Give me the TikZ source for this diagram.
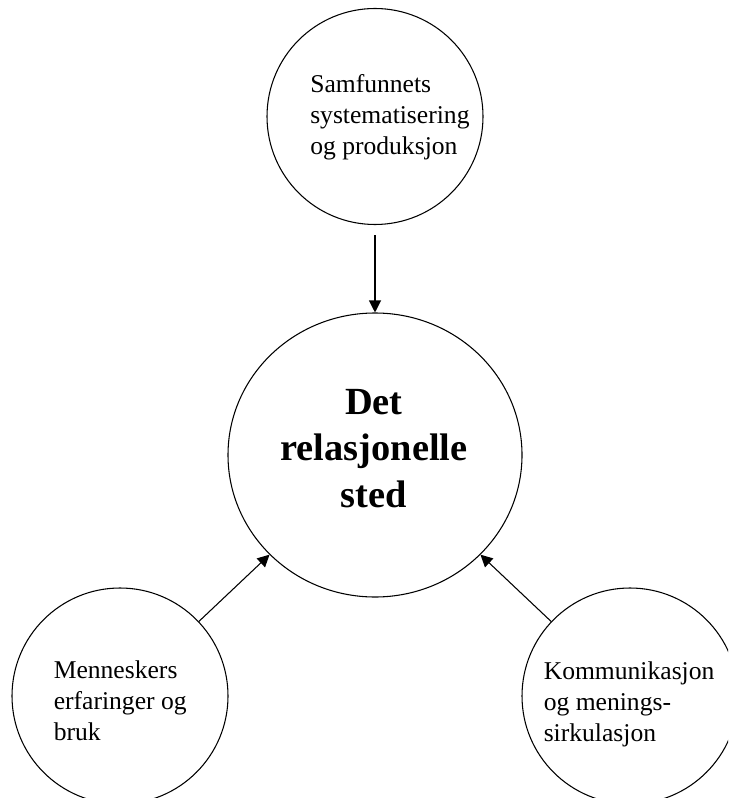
\documentclass[tikz,border=0pt]{standalone}
\usepackage{fontspec}
\setmainfont{Liberation Serif}
\usetikzlibrary{arrows.meta,shapes.geometric}
\begin{document}
\begin{tikzpicture}[x=0.75pt,y=-0.75pt,
  ring/.style={draw,circle,line width=0.8pt,minimum size=162pt,inner sep=0pt},
  hub/.style={draw,ellipse,line width=0.8pt,minimum width=220.5pt,minimum height=213pt,inner sep=0pt},
  conn/.style={line width=0.8pt,-{Triangle[length=9pt,width=9pt]}},
  small/.style={align=left,inner sep=0pt,font=\fontsize{19.2}{23.2}\selectfont},
  big/.style={align=center,inner sep=0pt,font=\fontsize{28.8}{34.9}\selectfont\bfseries}]
\useasboundingbox (0,0) rectangle (728,798);
\clip (0,0) rectangle (728,798);
\node[ring] (top) at (375,116.5) {};
\node[hub] (mid) at (375,455) {};
\node[ring] (bl) at (120,696) {};
\node[ring] (br) at (630,696) {};
\node[small,anchor=west] (toptext) at (310,117) {Samfunnets\\systematisering\\og produksjon};
\node[big] (midtext) at (374,448.5) {Det\\relasjonelle\\sted};
\node[small,anchor=west] (bltext) at (53.5,701) {Menneskers\\erfaringer og\\bruk};
\node[small,anchor=west] (brtext) at (543.5,704) {Kommunikasjon\\og menings-\\sirkulasjon};
\draw[conn,shorten <=7.5pt] (top) -- (mid);
\draw[conn] (bl) -- (mid);
\draw[conn] (br) -- (mid);
\end{tikzpicture}
\end{document}
